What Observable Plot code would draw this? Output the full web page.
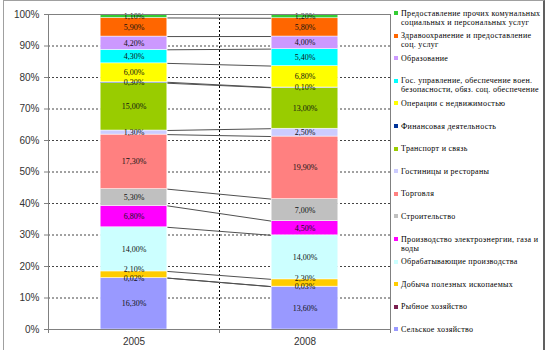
<!DOCTYPE html>
<html><head><meta charset="utf-8">
<script src="https://cdn.jsdelivr.net/npm/d3@7"></script>
<script src="https://cdn.jsdelivr.net/npm/@observablehq/plot@0.6"></script>
<style>
body{margin:0;background:#fff}
#wrap{position:relative;width:546px;height:350px;overflow:hidden;background:#fff}
#chart{position:absolute;left:0;top:0}
#border{position:absolute;left:3px;top:0;width:542px;height:350px;border-left:1px solid #a0a0a0;border-top:1px solid #a0a0a0;border-right:2px solid #606060;box-sizing:border-box;pointer-events:none}
#legend{position:absolute;left:0;top:0;width:546px;height:350px;font-family:"Liberation Serif",serif;font-size:8px;line-height:9px;color:#000}
#legend .item{position:absolute;left:394px;white-space:pre}
#legend .mk{position:absolute;left:0;top:2.5px;width:4px;height:4px}
#legend .tx{position:absolute;left:7px;top:0;letter-spacing:0.3px}
</style></head><body>
<div id="wrap"><div id="chart"></div><div id="legend"></div><div id="border"></div></div>
<script>
// categories (bottom of stack first)
const years = ["2005", "2008"];
const sectors = [
  "Сельское хозяйство",
  "Рыбное хозяйство",
  "Добыча полезных ископаемых",
  "Обрабатывающие производства",
  "Производство электроэнергии, газа и\nводы",
  "Строительство",
  "Торговля",
  "Гостиницы и рестораны",
  "Транспорт и связь",
  "Финансовая деятельность",
  "Операции с недвижимостью",
  "Гос. управление, обеспечение воен.\nбезопасности, обяз. соц. обеспечение",
  "Образование",
  "Здравоохранение и предоставление\nсоц. услуг",
  "Предоставление прочих комунальных\nсоциальных и персональных услуг"
];
// series values, % (same order as sectors)
const values2005 = [16.30, 0.02, 2.10, 14.00, 6.80, 5.30, 17.30, 1.30, 15.00, 0.30, 6.00, 4.30, 4.20, 5.90, 1.10];
const values2008 = [13.60, 0.03, 2.30, 14.00, 4.50, 7.00, 19.90, 2.50, 13.00, 0.10, 6.80, 5.40, 4.00, 5.80, 1.20];
const colors = ["#9999FF", "#7A1F4F", "#FFCC00", "#CCFFFF", "#FF00FF", "#C0C0C0", "#FF8080", "#CCCCFF", "#99CC00", "#003399", "#FFFF00", "#00FFFF", "#CC99FF", "#FF6600", "#33CC33"];
// tick labels
const yTicks = [0, 0.1, 0.2, 0.3, 0.4, 0.5, 0.6, 0.7, 0.8, 0.9, 1];

const seriesValues = [values2005, values2008];
const rows = [];
years.forEach((y, yi) => sectors.forEach((s, si) => rows.push({year: y, yi, si, sector: s, value: seriesValues[yi][si]})));

// normalized cumulative tops for series lines
const tops = seriesValues.map(vals => {
  const total = d3.sum(vals); let c = 0;
  return vals.map(v => (c += v) / total);
});

const bw = 0.39; // bar width as fraction of category
const fmt = v => d3.format(".2f")(v).replace(".", ",") + "%";
const lifted = 2; // index of the thin segment whose label sits a little higher

const labelOpts = (textFn, dy) => Plot.stackY({
  offset: "normalize",
  x: d => d.yi + 0.5, y: "value",
  text: textFn, dy,
  fontFamily: "Liberation Serif", fontSize: 8, fill: "#111"
});

const chart = Plot.plot({
  width: 546, height: 350,
  marginLeft: 48, marginRight: 156, marginTop: 14, marginBottom: 21,
  style: {fontFamily: "Liberation Sans", fontSize: "10px", background: "transparent", overflow: "visible"},
  x: {type: "linear", domain: [0, years.length], label: null},
  y: {domain: [0, 1], label: null},
  color: {domain: sectors, range: colors},
  marks: [
    Plot.ruleY(yTicks.slice(1, -1), {stroke: "#444", strokeDasharray: "2,2"}),
    Plot.ruleX(d3.range(1, years.length), {stroke: "#000", strokeDasharray: "2,2"}),
    Plot.link(sectors, {
      x1: () => 0.5 + bw / 2, x2: () => 1.5 - bw / 2,
      y1: (d, i) => tops[0][i], y2: (d, i) => tops[1][i],
      stroke: "#505050", strokeWidth: 1
    }),
    Plot.rectY(rows, Plot.stackY({
      offset: "normalize",
      x1: d => d.yi + 0.5 - bw / 2, x2: d => d.yi + 0.5 + bw / 2,
      y: "value", fill: "sector", stroke: "white", strokeWidth: 0.5
    })),
    Plot.text(rows, labelOpts(d => d.si === lifted ? "" : fmt(d.value), 0)),
    Plot.text(rows, labelOpts(d => d.si === lifted ? fmt(d.value) : "", -5)),
    Plot.frame({stroke: "#808080"}),
    Plot.axisY(yTicks, {tickFormat: d3.format(".0%"), tickSize: 4, tickPadding: 5, stroke: "#808080", fill: "#333", fontSize: 10, label: null}),
    Plot.axisX(d3.range(0, years.length + 1), {tickFormat: () => "", tickSize: 4, stroke: "#808080", label: null}),
    Plot.axisX(years.map((y, i) => i + 0.5), {tickFormat: d => years[Math.floor(d)], tickSize: 0, tickPadding: 8, fill: "#333", fontSize: 10, label: null})
  ]
});
document.getElementById("chart").appendChild(chart);

// legend (top series first)
const color = chart.scale("color");
const legend = document.getElementById("legend");
const order = sectors.slice().reverse();
order.forEach((s, k) => {
  const item = document.createElement("div");
  item.className = "item";
  item.style.top = (13 + 22.6 * k - 4.5) + "px";
  const mk = document.createElement("span");
  mk.className = "mk";
  mk.style.background = color.apply(s);
  const tx = document.createElement("span");
  tx.className = "tx";
  tx.textContent = s;
  item.appendChild(mk); item.appendChild(tx);
  legend.appendChild(item);
});
</script>
</body></html>
